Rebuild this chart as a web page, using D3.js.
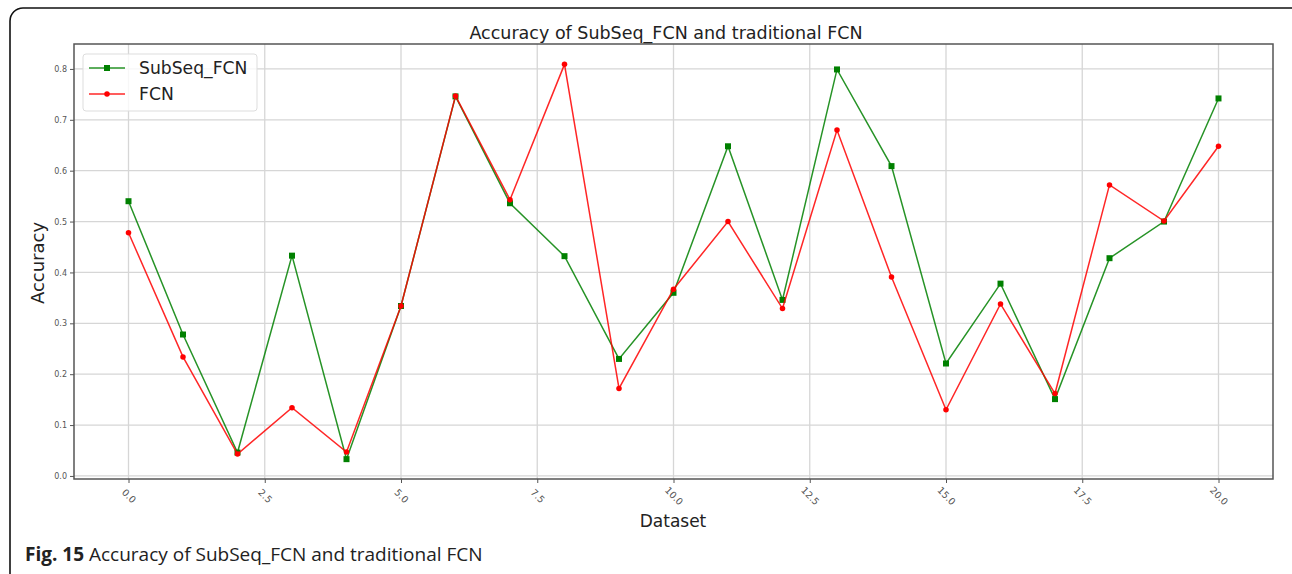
<!DOCTYPE html>
<html lang="en">
<head>
  <meta charset="utf-8">
  <title>Accuracy of SubSeq_FCN and traditional FCN</title>
  <script src="https://d3js.org/d3.v7.min.js"></script>
  <style>
    body { margin: 0; background: #fff; }
    svg text { font-family: "DejaVu Sans", sans-serif; }
    .grid line { stroke: #d6d6d6; stroke-width: 1.3; }
    .tick text { fill: #555; font-size: 8px; }
    .x-eixo .tick text { font-size: 9.5px; }
    .tick line { stroke: #555; }
    .caption { font-family: "Open Sans", "Noto Sans", sans-serif; fill: #222; }
  </style>
</head>
<body>
  <div id="chart"></div>
  <script>
    "use strict";
    // dados
    var datasets = d3.range(0, 21);
    var subseqFcn = [0.540, 0.278, 0.046, 0.433, 0.033, 0.334, 0.746, 0.536, 0.432, 0.230,
                     0.360, 0.648, 0.346, 0.799, 0.609, 0.221, 0.378, 0.151, 0.428, 0.500, 0.742];
    var fcn = [0.478, 0.234, 0.043, 0.134, 0.047, 0.334, 0.747, 0.543, 0.809, 0.172,
               0.367, 0.500, 0.329, 0.680, 0.391, 0.130, 0.338, 0.162, 0.572, 0.501, 0.648];
    var xTicks = [0, 2.5, 5, 7.5, 10, 12.5, 15, 17.5, 20];
    var yTicks = [0, 0.1, 0.2, 0.3, 0.4, 0.5, 0.6, 0.7, 0.8];
    var seriesNames = ["SubSeq_FCN", "FCN"];

    var W = 1292, H = 574;
    var margin = {top: 44, right: 19, bottom: 95, left: 74};
    var larguraVis = W - margin.left - margin.right,
        alturaVis = H - margin.top - margin.bottom;

    var svg = d3.select("#chart").append("svg")
      .attr("width", W).attr("height", H);

    // moldura da figura
    svg.append("rect")
      .attr("x", 10).attr("y", 8)
      .attr("width", 1296).attr("height", 584)
      .attr("rx", 13)
      .attr("fill", "none").attr("stroke", "#111").attr("stroke-width", 1.6);

    var g = svg.append("g")
      .attr("transform", "translate(" + margin.left + "," + margin.top + ")");

    var x = d3.scaleLinear().domain([-1, 21]).range([0, larguraVis]);
    var y = d3.scaleLinear().domain([-0.006, 0.849]).range([alturaVis, 0]);

    // grade
    g.append("g").attr("class", "grid")
      .selectAll("line").data(xTicks).join("line")
      .attr("x1", d => x(d)).attr("x2", d => x(d))
      .attr("y1", 0).attr("y2", alturaVis);
    g.append("g").attr("class", "grid")
      .selectAll("line").data(yTicks).join("line")
      .attr("y1", d => y(d)).attr("y2", d => y(d))
      .attr("x1", 0).attr("x2", larguraVis);

    // eixos
    var eixoX = g.append("g").attr("class", "x-eixo")
      .attr("transform", "translate(0," + alturaVis + ")")
      .call(d3.axisBottom(x).tickValues(xTicks).tickFormat(d3.format(".1f")).tickSize(4).tickPadding(3));
    eixoX.select(".domain").remove();
    eixoX.selectAll(".tick text")
      .attr("text-anchor", "middle")
      .attr("y", 0)
      .attr("dy", "0.35em")
      .attr("transform", "translate(0,17) rotate(45)");

    var eixoY = g.append("g")
      .call(d3.axisLeft(y).tickValues(yTicks).tickFormat(d3.format(".1f")).tickSize(4).tickPadding(3));
    eixoY.select(".domain").remove();

    g.append("rect")
      .attr("width", larguraVis).attr("height", alturaVis)
      .attr("fill", "none").attr("stroke", "#555").attr("stroke-width", 1.5);

    // linhas
    var linha = d3.line().x((d, i) => x(datasets[i])).y(d => y(d));
    var series = [
      {name: seriesNames[0], values: subseqFcn, color: "#008000", shape: d3.symbolSquare, size: 36},
      {name: seriesNames[1], values: fcn, color: "#ff0000", shape: d3.symbolCircle, size: 24}
    ];
    series.forEach(function(s) {
      g.append("path").datum(s.values)
        .attr("d", linha)
        .attr("fill", "none").attr("stroke", s.color).attr("stroke-width", 1.5)
        .attr("stroke-opacity", 0.85);
      g.append("g").selectAll("path").data(s.values).join("path")
        .attr("transform", (d, i) => "translate(" + x(datasets[i]) + "," + y(d) + ")")
        .attr("d", d3.symbol().type(s.shape).size(s.size))
        .attr("fill", s.color);
    });

    // legenda
    var leg = g.append("g").attr("transform", "translate(9,10)");
    leg.append("rect")
      .attr("width", 174).attr("height", 57).attr("rx", 3)
      .attr("fill", "#fff").attr("fill-opacity", 0.8)
      .attr("stroke", "#ddd");
    series.forEach(function(s, i) {
      var yy = 14 + i * 26;
      leg.append("line").attr("x1", 6).attr("x2", 42).attr("y1", yy).attr("y2", yy)
        .attr("stroke", s.color).attr("stroke-width", 1.5).attr("stroke-opacity", 0.85);
      leg.append("path").attr("transform", "translate(24," + yy + ")")
        .attr("d", d3.symbol().type(s.shape).size(s.size)).attr("fill", s.color);
      leg.append("text").attr("x", 56).attr("y", yy + 6)
        .attr("font-size", 17.2).attr("fill", "#222").text(s.name);
    });

    // textos
    svg.append("text")
      .attr("x", 666).attr("y", 39).attr("text-anchor", "middle")
      .attr("font-size", 17.5).attr("fill", "#222")
      .text("Accuracy of SubSeq_FCN and traditional FCN");
    svg.append("text")
      .attr("x", 673).attr("y", 527).attr("text-anchor", "middle")
      .attr("font-size", 17).attr("fill", "#222")
      .text("Dataset");
    svg.append("text")
      .attr("transform", "translate(44,263) rotate(-90)").attr("text-anchor", "middle")
      .attr("font-size", 18).attr("fill", "#222")
      .text("Accuracy");

    var cap = svg.append("text").attr("class", "caption")
      .attr("x", 25).attr("y", 561).attr("font-size", 20);
    cap.append("tspan").attr("font-weight", "bold").text("Fig. 15");
    cap.append("tspan").text(" Accuracy of SubSeq_FCN and traditional FCN");
    // ajusta largura da legenda da figura
    var largura = cap.node().getComputedTextLength();
    cap.attr("font-size", 20 * 458 / largura);
  </script>
</body>
</html>
